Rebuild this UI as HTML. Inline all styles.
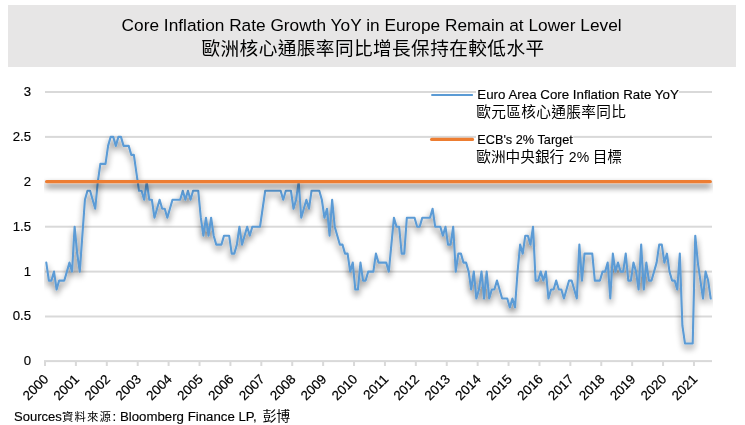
<!DOCTYPE html>
<html lang="zh-Hant"><head><meta charset="utf-8">
<title>Core Inflation Rate Growth YoY in Europe Remain at Lower Level</title>
<style>
html,body{margin:0;padding:0;background:#fff;}
body{width:745px;height:425px;overflow:hidden;}
svg{display:block;}
.lat{font-family:"Liberation Sans", sans-serif;}
.cjk{font-family:"Liberation Sans", "Noto Sans CJK TC", sans-serif;}
</style></head><body>
<svg width="745" height="425" viewBox="0 0 745 425">
<defs>
<filter id="sh" x="0" y="0" width="745" height="425" filterUnits="userSpaceOnUse">
<feGaussianBlur in="SourceAlpha" stdDeviation="3.4" result="b"/>
<feOffset in="b" dx="0" dy="4.3" result="o"/>
<feComponentTransfer in="o" result="s"><feFuncA type="linear" slope="0.7"/></feComponentTransfer>
<feMerge><feMergeNode in="s"/><feMergeNode in="SourceGraphic"/></feMerge>
</filter>
<filter id="shb" x="0" y="0" width="745" height="425" filterUnits="userSpaceOnUse">
<feGaussianBlur in="SourceAlpha" stdDeviation="3.2" result="b"/>
<feOffset in="b" dx="0" dy="4.3" result="o"/>
<feComponentTransfer in="o" result="s"><feFuncA type="linear" slope="0.58"/></feComponentTransfer>
<feMerge><feMergeNode in="s"/><feMergeNode in="SourceGraphic"/></feMerge>
</filter>
<clipPath id="plot"><rect x="44" y="80" width="669" height="290"/></clipPath>
</defs>
<rect x="0" y="0" width="745" height="425" fill="#ffffff"/>
<rect x="8" y="5" width="728" height="62" fill="#e7e6e6"/>
<text class="lat" x="121.6" y="31" font-size="16.9" fill="#000000" textLength="500" lengthAdjust="spacingAndGlyphs">Core Inflation Rate Growth YoY in Europe Remain at Lower Level</text>
<text class="cjk" x="201.5" y="55.2" font-size="18.67" fill="#000000" textLength="342.6" lengthAdjust="spacing">歐洲核心通脹率同比增長保持在較低水平</text>
<rect x="45" y="315.50" width="667" height="2" fill="#d9d9d9"/>
<rect x="45" y="270.60" width="667" height="2" fill="#d9d9d9"/>
<rect x="45" y="225.70" width="667" height="2" fill="#d9d9d9"/>
<rect x="45" y="180.80" width="667" height="2" fill="#d9d9d9"/>
<rect x="45" y="135.90" width="667" height="2" fill="#d9d9d9"/>
<rect x="45" y="91.00" width="667" height="2" fill="#d9d9d9"/>
<rect x="44" y="360.1" width="668" height="2" fill="#d9d9d9"/>
<rect x="44.00" y="361" width="2" height="5" fill="#d9d9d9"/>
<rect x="74.90" y="361" width="2" height="5" fill="#d9d9d9"/>
<rect x="105.81" y="361" width="2" height="5" fill="#d9d9d9"/>
<rect x="136.71" y="361" width="2" height="5" fill="#d9d9d9"/>
<rect x="167.61" y="361" width="2" height="5" fill="#d9d9d9"/>
<rect x="198.52" y="361" width="2" height="5" fill="#d9d9d9"/>
<rect x="229.42" y="361" width="2" height="5" fill="#d9d9d9"/>
<rect x="260.32" y="361" width="2" height="5" fill="#d9d9d9"/>
<rect x="291.23" y="361" width="2" height="5" fill="#d9d9d9"/>
<rect x="322.13" y="361" width="2" height="5" fill="#d9d9d9"/>
<rect x="353.03" y="361" width="2" height="5" fill="#d9d9d9"/>
<rect x="383.94" y="361" width="2" height="5" fill="#d9d9d9"/>
<rect x="414.84" y="361" width="2" height="5" fill="#d9d9d9"/>
<rect x="445.75" y="361" width="2" height="5" fill="#d9d9d9"/>
<rect x="476.65" y="361" width="2" height="5" fill="#d9d9d9"/>
<rect x="507.55" y="361" width="2" height="5" fill="#d9d9d9"/>
<rect x="538.46" y="361" width="2" height="5" fill="#d9d9d9"/>
<rect x="569.36" y="361" width="2" height="5" fill="#d9d9d9"/>
<rect x="600.26" y="361" width="2" height="5" fill="#d9d9d9"/>
<rect x="631.17" y="361" width="2" height="5" fill="#d9d9d9"/>
<rect x="662.07" y="361" width="2" height="5" fill="#d9d9d9"/>
<rect x="692.97" y="361" width="2" height="5" fill="#d9d9d9"/>
<text class="lat" x="31.1" y="365.30" font-size="13.2" fill="#000000" stroke="#000000" stroke-width="0.15" text-anchor="end">0</text>
<text class="lat" x="31.1" y="320.40" font-size="13.2" fill="#000000" stroke="#000000" stroke-width="0.15" text-anchor="end">0.5</text>
<text class="lat" x="31.1" y="275.50" font-size="13.2" fill="#000000" stroke="#000000" stroke-width="0.15" text-anchor="end">1</text>
<text class="lat" x="31.1" y="230.60" font-size="13.2" fill="#000000" stroke="#000000" stroke-width="0.15" text-anchor="end">1.5</text>
<text class="lat" x="31.1" y="185.70" font-size="13.2" fill="#000000" stroke="#000000" stroke-width="0.15" text-anchor="end">2</text>
<text class="lat" x="31.1" y="140.80" font-size="13.2" fill="#000000" stroke="#000000" stroke-width="0.15" text-anchor="end">2.5</text>
<text class="lat" x="31.1" y="95.90" font-size="13.2" fill="#000000" stroke="#000000" stroke-width="0.15" text-anchor="end">3</text>
<text class="lat" font-size="13.35" fill="#000000" stroke="#000000" stroke-width="0.2" text-anchor="end" transform="translate(49.20,380.0) rotate(-45)">2000</text>
<text class="lat" font-size="13.35" fill="#000000" stroke="#000000" stroke-width="0.2" text-anchor="end" transform="translate(80.10,380.0) rotate(-45)">2001</text>
<text class="lat" font-size="13.35" fill="#000000" stroke="#000000" stroke-width="0.2" text-anchor="end" transform="translate(111.01,380.0) rotate(-45)">2002</text>
<text class="lat" font-size="13.35" fill="#000000" stroke="#000000" stroke-width="0.2" text-anchor="end" transform="translate(141.91,380.0) rotate(-45)">2003</text>
<text class="lat" font-size="13.35" fill="#000000" stroke="#000000" stroke-width="0.2" text-anchor="end" transform="translate(172.81,380.0) rotate(-45)">2004</text>
<text class="lat" font-size="13.35" fill="#000000" stroke="#000000" stroke-width="0.2" text-anchor="end" transform="translate(203.72,380.0) rotate(-45)">2005</text>
<text class="lat" font-size="13.35" fill="#000000" stroke="#000000" stroke-width="0.2" text-anchor="end" transform="translate(234.62,380.0) rotate(-45)">2006</text>
<text class="lat" font-size="13.35" fill="#000000" stroke="#000000" stroke-width="0.2" text-anchor="end" transform="translate(265.52,380.0) rotate(-45)">2007</text>
<text class="lat" font-size="13.35" fill="#000000" stroke="#000000" stroke-width="0.2" text-anchor="end" transform="translate(296.43,380.0) rotate(-45)">2008</text>
<text class="lat" font-size="13.35" fill="#000000" stroke="#000000" stroke-width="0.2" text-anchor="end" transform="translate(327.33,380.0) rotate(-45)">2009</text>
<text class="lat" font-size="13.35" fill="#000000" stroke="#000000" stroke-width="0.2" text-anchor="end" transform="translate(358.23,380.0) rotate(-45)">2010</text>
<text class="lat" font-size="13.35" fill="#000000" stroke="#000000" stroke-width="0.2" text-anchor="end" transform="translate(389.14,380.0) rotate(-45)">2011</text>
<text class="lat" font-size="13.35" fill="#000000" stroke="#000000" stroke-width="0.2" text-anchor="end" transform="translate(420.04,380.0) rotate(-45)">2012</text>
<text class="lat" font-size="13.35" fill="#000000" stroke="#000000" stroke-width="0.2" text-anchor="end" transform="translate(450.95,380.0) rotate(-45)">2013</text>
<text class="lat" font-size="13.35" fill="#000000" stroke="#000000" stroke-width="0.2" text-anchor="end" transform="translate(481.85,380.0) rotate(-45)">2014</text>
<text class="lat" font-size="13.35" fill="#000000" stroke="#000000" stroke-width="0.2" text-anchor="end" transform="translate(512.75,380.0) rotate(-45)">2015</text>
<text class="lat" font-size="13.35" fill="#000000" stroke="#000000" stroke-width="0.2" text-anchor="end" transform="translate(543.66,380.0) rotate(-45)">2016</text>
<text class="lat" font-size="13.35" fill="#000000" stroke="#000000" stroke-width="0.2" text-anchor="end" transform="translate(574.56,380.0) rotate(-45)">2017</text>
<text class="lat" font-size="13.35" fill="#000000" stroke="#000000" stroke-width="0.2" text-anchor="end" transform="translate(605.46,380.0) rotate(-45)">2018</text>
<text class="lat" font-size="13.35" fill="#000000" stroke="#000000" stroke-width="0.2" text-anchor="end" transform="translate(636.37,380.0) rotate(-45)">2019</text>
<text class="lat" font-size="13.35" fill="#000000" stroke="#000000" stroke-width="0.2" text-anchor="end" transform="translate(667.27,380.0) rotate(-45)">2020</text>
<text class="lat" font-size="13.35" fill="#000000" stroke="#000000" stroke-width="0.2" text-anchor="end" transform="translate(698.17,380.0) rotate(-45)">2021</text>
<g clip-path="url(#plot)">
<polyline filter="url(#shb)" fill="none" stroke="#5b9bd5" stroke-width="2.1" stroke-linejoin="round" stroke-linecap="round" points="46.29,262.62 48.86,280.58 51.44,280.58 54.01,271.60 56.59,289.56 59.16,280.58 61.74,280.58 64.31,280.58 66.89,271.60 69.47,262.62 72.04,271.60 74.62,226.70 77.19,253.64 79.77,271.60 82.34,235.68 84.92,199.76 87.49,190.78 90.07,190.78 92.64,199.76 95.22,208.74 97.79,181.80 100.37,163.84 102.94,163.84 105.52,163.84 108.09,145.88 110.67,136.90 113.25,136.90 115.82,145.88 118.40,136.90 120.97,136.90 123.55,145.88 126.12,145.88 128.70,145.88 131.27,154.86 133.85,154.86 136.42,172.82 139.00,190.78 141.57,190.78 144.15,199.76 146.72,181.80 149.30,199.76 151.87,199.76 154.45,217.72 157.03,208.74 159.60,199.76 162.18,208.74 164.75,208.74 167.33,217.72 169.90,208.74 172.48,199.76 175.05,199.76 177.63,199.76 180.20,199.76 182.78,190.78 185.35,199.76 187.93,190.78 190.50,199.76 193.08,190.78 195.65,190.78 198.23,190.78 200.81,217.72 203.38,235.68 205.96,217.72 208.53,235.68 211.11,217.72 213.68,235.68 216.26,244.66 218.83,244.66 221.41,244.66 223.98,235.68 226.56,235.68 229.13,235.68 231.71,253.64 234.28,253.64 236.86,244.66 239.43,226.70 242.01,244.66 244.58,235.68 247.16,226.70 249.74,235.68 252.31,226.70 254.89,226.70 257.46,226.70 260.04,226.70 262.61,208.74 265.19,190.78 267.76,190.78 270.34,190.78 272.91,190.78 275.49,190.78 278.06,190.78 280.64,190.78 283.21,199.76 285.79,190.78 288.36,190.78 290.94,190.78 293.52,208.74 296.09,199.76 298.67,181.80 301.24,217.72 303.82,208.74 306.39,199.76 308.97,208.74 311.54,190.78 314.12,190.78 316.69,190.78 319.27,190.78 321.84,199.76 324.42,217.72 326.99,208.74 329.57,235.68 332.14,199.76 334.72,226.70 337.30,235.68 339.87,244.66 342.45,244.66 345.02,253.64 347.60,253.64 350.17,271.60 352.75,262.62 355.32,289.56 357.90,289.56 360.47,262.62 363.05,280.58 365.62,280.58 368.20,271.60 370.77,271.60 373.35,271.60 375.92,253.64 378.50,262.62 381.08,262.62 383.65,262.62 386.23,262.62 388.80,271.60 391.38,244.66 393.95,217.72 396.53,226.70 399.10,226.70 401.68,253.64 404.25,253.64 406.83,217.72 409.40,217.72 411.98,217.72 414.55,217.72 417.13,226.70 419.70,226.70 422.28,217.72 424.86,217.72 427.43,217.72 430.01,217.72 432.58,208.74 435.16,226.70 437.73,226.70 440.31,226.70 442.88,235.68 445.46,226.70 448.03,244.66 450.61,244.66 453.18,226.70 455.76,271.60 458.33,253.64 460.91,253.64 463.48,262.62 466.06,262.62 468.64,271.60 471.21,289.56 473.79,271.60 476.36,298.54 478.94,289.56 481.51,271.60 484.09,298.54 486.66,271.60 489.24,298.54 491.81,289.56 494.39,289.56 496.96,280.58 499.54,289.56 502.11,298.54 504.69,298.54 507.26,298.54 509.84,307.52 512.42,298.54 514.99,307.52 517.57,271.60 520.14,244.66 522.72,253.64 525.29,235.68 527.87,235.68 530.44,244.66 533.02,226.70 535.59,280.58 538.17,280.58 540.74,271.60 543.32,280.58 545.89,271.60 548.47,298.54 551.04,289.56 553.62,289.56 556.19,280.58 558.77,289.56 561.35,289.56 563.92,298.54 566.50,289.56 569.07,280.58 571.65,280.58 574.22,289.56 576.80,298.54 579.37,244.66 581.95,280.58 584.52,253.64 587.10,253.64 589.67,253.64 592.25,253.64 594.82,280.58 597.40,280.58 599.97,280.58 602.55,271.60 605.13,271.60 607.70,262.62 610.28,298.54 612.85,253.64 615.43,271.60 618.00,262.62 620.58,271.60 623.15,271.60 625.73,253.64 628.30,280.58 630.88,280.58 633.45,262.62 636.03,271.60 638.60,289.56 641.18,244.66 643.75,289.56 646.33,262.62 648.91,280.58 651.48,280.58 654.06,271.60 656.63,262.62 659.21,244.66 661.78,244.66 664.36,262.62 666.93,253.64 669.51,271.60 672.08,280.58 674.66,280.58 677.23,289.56 679.81,253.64 682.38,325.48 684.96,343.44 687.53,343.44 690.11,343.44 692.69,343.44 695.26,235.68 697.84,262.62 700.41,280.58 702.99,298.54 705.56,271.60 708.14,280.58 710.71,298.54"/>
<line filter="url(#sh)" x1="46.69" y1="181.60" x2="710.21" y2="181.61" stroke="#ed7d31" stroke-width="3.4" stroke-linecap="round"/>
</g>
<rect x="476" y="87" width="203" height="15" fill="#ffffff"/>
<rect x="476" y="103" width="151" height="17" fill="#ffffff"/>
<rect x="476" y="132" width="97.3" height="15" fill="#ffffff"/>
<rect x="476" y="148" width="146" height="17" fill="#ffffff"/>
<line x1="432" y1="95" x2="472.2" y2="95" stroke="#5b9bd5" stroke-width="1.9" stroke-linecap="round"/>
<line x1="431.7" y1="139.4" x2="472.4" y2="139.4" stroke="#ed7d31" stroke-width="3.4" stroke-linecap="round"/>
<text class="lat" x="477.3" y="98.6" font-size="13.2" fill="#000000" stroke="#000000" stroke-width="0.15" textLength="201.5" lengthAdjust="spacingAndGlyphs">Euro Area Core Inflation Rate YoY</text>
<text class="cjk" x="476.3" y="117.2" font-size="14.67" fill="#000000" textLength="149.5" lengthAdjust="spacing">歐元區核心通脹率同比</text>
<text class="lat" x="477.3" y="143.7" font-size="13.2" fill="#000000" stroke="#000000" stroke-width="0.15" textLength="95.5" lengthAdjust="spacingAndGlyphs">ECB's 2% Target</text>
<text class="cjk" x="476.3" y="161.6" font-size="14.67" fill="#000000"><tspan>歐洲中央銀行</tspan><tspan dx="4.6" font-size="14">2%</tspan><tspan dx="3.6">目標</tspan></text>
<text class="lat" x="14" y="420.8" font-size="13.2" fill="#000000" stroke="#000000" stroke-width="0.15" textLength="47.8" lengthAdjust="spacingAndGlyphs">Sources</text>
<text class="cjk" x="62" y="421.4" font-size="11.4" fill="#000000" textLength="49" lengthAdjust="spacing">資料來源</text>
<text class="lat" x="112.6" y="420.8" font-size="13.2" fill="#000000" stroke="#000000" stroke-width="0.15" textLength="144" lengthAdjust="spacingAndGlyphs">: Bloomberg Finance LP,</text>
<text class="cjk" x="262.4" y="420.9" font-size="14" fill="#000000" textLength="27.8" lengthAdjust="spacing">彭博</text>
</svg>
</body></html>
